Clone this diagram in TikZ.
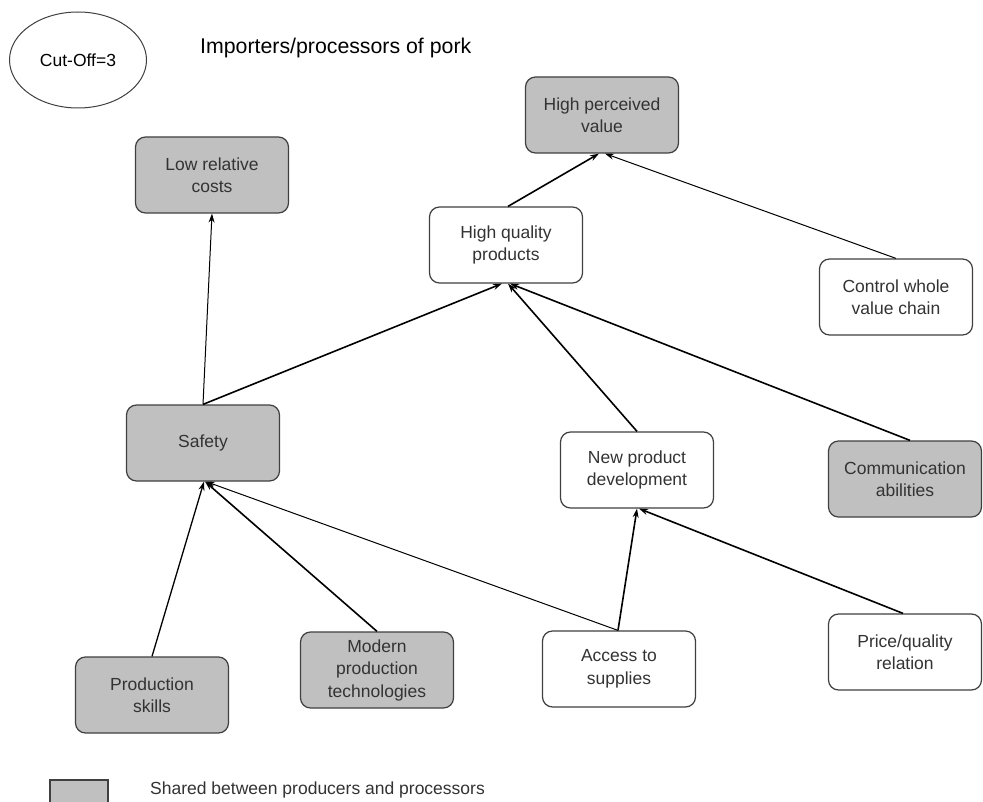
\documentclass[tikz,border=0pt]{standalone}
\usepackage{fontspec}
\setmainfont{Liberation Sans}
\usetikzlibrary{arrows.meta,shapes.geometric}
\definecolor{boxgray}{HTML}{C0C0C0}
\definecolor{edgegray}{HTML}{404040}
\definecolor{txtgray}{HTML}{333333}
\tikzset{
  concept/.style={draw=edgegray, line width=1.2pt, rounded corners=10pt,
    minimum width=153pt, minimum height=76pt, align=center,
    text=txtgray, font=\fontsize{17.5}{22.5}\selectfont, inner sep=2pt},
  shared/.style={concept, fill=boxgray},
  own/.style={concept, fill=white},
  link/.style={-{Stealth[length=9pt,width=6pt]}, black, line width=1.0pt},
  strong/.style={link, line width=1.6pt},
}
\begin{document}
\begin{tikzpicture}[x=1pt,y=-1pt]
\useasboundingbox (0,0) rectangle (983,802);
\fill[white] (0,0) rectangle (983,802);

% header
\node[draw=edgegray, line width=1pt, ellipse, minimum width=137pt, minimum height=96pt,
      font=\fontsize{17.5}{21}\selectfont, text=black] (cutoff) at (78,60) {Cut-Off=3};
\node[anchor=west, font=\fontsize{21.3}{26}\selectfont, text=black, inner sep=0pt] (title) at (200,48)
  {Importers/processors of pork};

% concepts
\node[shared] (hpv)    at (602,115) {High perceived\\value};
\node[shared] (lrc)    at (212,175) {Low relative\\costs};
\node[own]    (hq)     at (506,245) {High quality\\products};
\node[own]    (ctrl)   at (896,297) {Control whole\\value chain};
\node[shared] (safety) at (203,443) {Safety};
\node[own]    (npd)    at (637,470) {New product\\development};
\node[shared] (comm)   at (905,479) {Communication\\abilities};
\node[shared] (prod)   at (152,695) {Production\\skills};
\node[shared] (modern) at (377,670) {Modern\\production\\technologies};
\node[own]    (access) at (619,669) {Access to\\supplies};
\node[own]    (price)  at (905,652) {Price/quality\\relation};

% links
\draw[link]   (safety.north) -- (lrc.south);
\draw[strong] (safety.north) -- ([xshift=-4pt]hq.south);
\draw[strong] (npd.north) -- ([xshift=2pt]hq.south);
\draw[strong] ([xshift=5pt]comm.north) -- ([xshift=4pt]hq.south);
\draw[strong] ([xshift=2pt]hq.north) -- ([xshift=-3pt]hpv.south);
\draw[link]   (ctrl.north) -- ([xshift=3pt]hpv.south);
\draw[link, line width=1.3pt] (prod.north) -- ([xshift=1pt]safety.south);
\draw[strong] (modern.north) -- ([xshift=2pt]safety.south);
\draw[link]   ([xshift=-1pt]access.north) -- ([xshift=3pt]safety.south);
\draw[strong] ([xshift=-1pt]access.north) -- (npd.south);
\draw[strong] ([xshift=-2pt]price.north) -- ([xshift=2pt]npd.south);

% legend
\node[draw=edgegray, line width=1.2pt, fill=boxgray, minimum width=58pt, minimum height=30pt,
      inner sep=0pt] (legendbox) at (79,795) {};
\node[anchor=west, font=\fontsize{17.5}{21}\selectfont, text=txtgray, inner sep=0pt] (legendtext)
  at (150,790) {Shared between producers and processors};
\end{tikzpicture}
\end{document}
